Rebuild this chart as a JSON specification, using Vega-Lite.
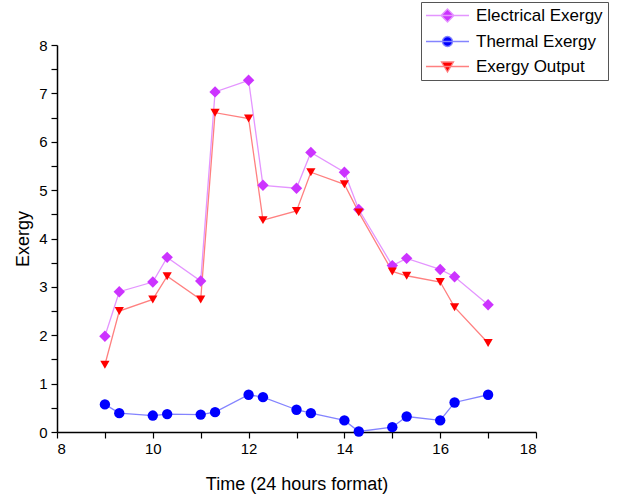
{
  "$schema": "https://vega.github.io/schema/vega-lite/v6.json",
  "width": 479,
  "height": 387,
  "autosize": {"type": "none"},
  "padding": {"left": 57, "top": 45, "right": 91, "bottom": 65},
  "background": "white",
  "config": {
    "font": "Liberation Sans",
    "view": {"stroke": null},
    "axis": {"grid": false, "domainColor": "#000", "domainWidth": 1.5, "tickColor": "#000", "tickWidth": 1.2, "labelColor": "#000", "titleColor": "#000", "labelFont": "Liberation Sans", "titleFont": "Liberation Sans", "titleFontWeight": "normal", "labelFontSize": 15, "titleFontSize": 18}
  },
  "data": {"values": [
    {"t": 9, "series": "Electrical Exergy", "v": 1.98},
    {"t": 9.3, "series": "Electrical Exergy", "v": 2.90},
    {"t": 10, "series": "Electrical Exergy", "v": 3.10},
    {"t": 10.3, "series": "Electrical Exergy", "v": 3.61},
    {"t": 11, "series": "Electrical Exergy", "v": 3.12},
    {"t": 11.3, "series": "Electrical Exergy", "v": 7.03},
    {"t": 12, "series": "Electrical Exergy", "v": 7.27},
    {"t": 12.3, "series": "Electrical Exergy", "v": 5.10},
    {"t": 13, "series": "Electrical Exergy", "v": 5.04},
    {"t": 13.3, "series": "Electrical Exergy", "v": 5.78},
    {"t": 14, "series": "Electrical Exergy", "v": 5.37},
    {"t": 14.3, "series": "Electrical Exergy", "v": 4.60},
    {"t": 15, "series": "Electrical Exergy", "v": 3.44},
    {"t": 15.3, "series": "Electrical Exergy", "v": 3.59},
    {"t": 16, "series": "Electrical Exergy", "v": 3.36},
    {"t": 16.3, "series": "Electrical Exergy", "v": 3.21},
    {"t": 17, "series": "Electrical Exergy", "v": 2.63},
    {"t": 9, "series": "Thermal Exergy", "v": 0.57},
    {"t": 9.3, "series": "Thermal Exergy", "v": 0.39},
    {"t": 10, "series": "Thermal Exergy", "v": 0.34},
    {"t": 10.3, "series": "Thermal Exergy", "v": 0.37},
    {"t": 11, "series": "Thermal Exergy", "v": 0.36},
    {"t": 11.3, "series": "Thermal Exergy", "v": 0.41},
    {"t": 12, "series": "Thermal Exergy", "v": 0.77},
    {"t": 12.3, "series": "Thermal Exergy", "v": 0.72},
    {"t": 13, "series": "Thermal Exergy", "v": 0.46},
    {"t": 13.3, "series": "Thermal Exergy", "v": 0.39},
    {"t": 14, "series": "Thermal Exergy", "v": 0.24},
    {"t": 14.3, "series": "Thermal Exergy", "v": 0.01},
    {"t": 15, "series": "Thermal Exergy", "v": 0.10},
    {"t": 15.3, "series": "Thermal Exergy", "v": 0.32},
    {"t": 16, "series": "Thermal Exergy", "v": 0.24},
    {"t": 16.3, "series": "Thermal Exergy", "v": 0.61},
    {"t": 17, "series": "Thermal Exergy", "v": 0.77},
    {"t": 9, "series": "Exergy Output", "v": 1.39},
    {"t": 9.3, "series": "Exergy Output", "v": 2.50},
    {"t": 10, "series": "Exergy Output", "v": 2.74},
    {"t": 10.3, "series": "Exergy Output", "v": 3.22},
    {"t": 11, "series": "Exergy Output", "v": 2.74},
    {"t": 11.3, "series": "Exergy Output", "v": 6.60},
    {"t": 12, "series": "Exergy Output", "v": 6.48},
    {"t": 12.3, "series": "Exergy Output", "v": 4.38},
    {"t": 13, "series": "Exergy Output", "v": 4.57},
    {"t": 13.3, "series": "Exergy Output", "v": 5.37},
    {"t": 14, "series": "Exergy Output", "v": 5.12},
    {"t": 14.3, "series": "Exergy Output", "v": 4.54},
    {"t": 15, "series": "Exergy Output", "v": 3.32},
    {"t": 15.3, "series": "Exergy Output", "v": 3.23},
    {"t": 16, "series": "Exergy Output", "v": 3.10},
    {"t": 16.3, "series": "Exergy Output", "v": 2.58},
    {"t": 17, "series": "Exergy Output", "v": 1.84}
  ]},
  "encoding": {
    "x": {"field": "t", "type": "quantitative", "scale": {"domain": [8, 18], "nice": false, "zero": false},
      "axis": {"title": "Time (24 hours format)", "values": [8,9,10,11,12,13,14,15,16,17,18], "format": ".0f", "labelExpr": "datum.value % 2 == 0 ? datum.label : ''", "tickSize": 6, "labelPadding": 3, "titlePadding": 19}},
    "y": {"field": "v", "type": "quantitative", "scale": {"domain": [0, 8], "nice": false},
      "axis": {"title": "Exergy", "values": [0,0.5,1,1.5,2,2.5,3,3.5,4,4.5,5,5.5,6,6.5,7,7.5,8], "format": ".0f", "labelExpr": "datum.value % 1 == 0 ? datum.label : ''", "tickSize": 6, "labelPadding": 4, "titlePadding": 6}}
  },
  "resolve": {"scale": {"color": "independent", "shape": "independent", "size": "independent", "fill": "independent", "stroke": "independent"}, "legend": {"color": "independent", "shape": "independent", "fill": "independent", "stroke": "independent"}},
  "layer": [
    {
      "mark": {"type": "line", "strokeWidth": 1.3},
      "encoding": {
        "color": {"field": "series", "type": "nominal",
          "scale": {"domain": ["Electrical Exergy", "Thermal Exergy", "Exergy Output"], "range": ["#E495FF", "#8484FF", "#FF8080"]},
          "legend": null}
      }
    },
    {
      "mark": {"type": "point", "filled": true, "opacity": 1},
      "encoding": {
        "color": {"field": "series", "type": "nominal",
          "scale": {"domain": ["Electrical Exergy", "Thermal Exergy", "Exergy Output"], "range": ["#CC33FF", "#0000FF", "#FF0000"]},
          "legend": null},
        "shape": {"field": "series", "type": "nominal",
          "scale": {"domain": ["Electrical Exergy", "Thermal Exergy", "Exergy Output"], "range": ["diamond", "circle", "triangle-down"]}, "legend": null},
        "size": {"field": "series", "type": "nominal",
          "scale": {"domain": ["Electrical Exergy", "Thermal Exergy", "Exergy Output"], "range": [130, 85, 120]}, "legend": null}
      }
    },
    {
      "transform": [{"filter": "false"}],
      "mark": {"type": "point", "filled": false, "opacity": 1, "strokeWidth": 1.3},
      "encoding": {
        "fill": {"field": "series", "type": "nominal",
          "scale": {"domain": ["Electrical Exergy", "Thermal Exergy", "Exergy Output"], "range": ["#CC33FF", "#0000FF", "#FF0000"]},
          "legend": {"title": null, "orient": "none", "legendX": 364, "legendY": -43, "strokeColor": "#555", "fillColor": "white", "padding": 5,
            "labelFontSize": 17, "labelFont": "Liberation Sans", "labelColor": "#000", "symbolSize": 100, "symbolStrokeWidth": 1.3, "symbolOpacity": 1, "labelOffset": 20, "symbolOffset": 13, "rowPadding": 7}},
        "stroke": {"field": "series", "type": "nominal",
          "scale": {"domain": ["Electrical Exergy", "Thermal Exergy", "Exergy Output"], "range": ["#E495FF", "#8484FF", "#FF8080"]},
          "legend": {"title": null, "orient": "none", "legendX": 364, "legendY": -43, "strokeColor": "#555", "fillColor": "white", "padding": 5,
            "labelFontSize": 17, "labelFont": "Liberation Sans", "labelColor": "#000", "symbolSize": 100, "symbolStrokeWidth": 1.3, "symbolOpacity": 1, "labelOffset": 20, "symbolOffset": 13, "rowPadding": 7}},
        "shape": {"field": "series", "type": "nominal",
          "scale": {"domain": ["Electrical Exergy", "Thermal Exergy", "Exergy Output"], "range": ["M-4.3,0H4.3M0,-1.3L1.3,0L0,1.3L-1.3,0Z", "M-4.3,0H4.3M-1,0A1,1,0,1,1,1,0A1,1,0,1,1,-1,0Z", "M-4.3,0H4.3M-1.2,-0.9L1.2,-0.9L0,1.1Z"]},
          "legend": {"title": null, "orient": "none", "legendX": 364, "legendY": -43, "strokeColor": "#555", "fillColor": "white", "padding": 5,
            "labelFontSize": 17, "labelFont": "Liberation Sans", "labelColor": "#000", "symbolSize": 100, "symbolStrokeWidth": 1.3, "symbolOpacity": 1, "labelOffset": 20, "symbolOffset": 13, "rowPadding": 7}}
      }
    }
  ]
}
